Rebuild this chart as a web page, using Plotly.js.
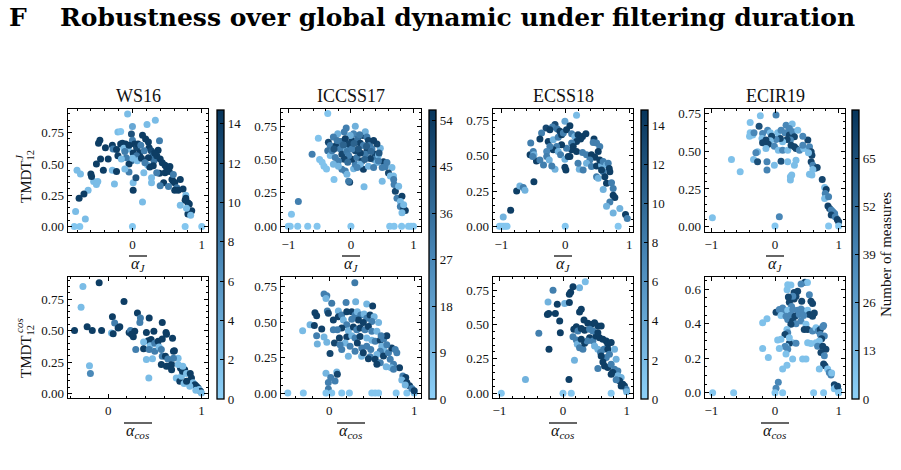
<!DOCTYPE html>
<html><head><meta charset="utf-8">
<script src="https://cdn.plot.ly/plotly-3.0.1.min.js"></script>
<style>html,body{margin:0;padding:0;background:#fff}</style>
</head><body><div id="chart" style="width:901px;height:470px"></div>
<script>
// ---------------- DATA ----------------
const datasets = ["WS16", "ICCSS17", "ECSS18", "ECIR19"];
const cbTicks = [[0,2,4,6,8,10,12,14],[0,9,18,27,36,45,54],[0,2,4,6,8,10,12,14],[0,13,26,39,52,65]];
const cbMax = [14.7, 56, 14.8, 78];

// WS16 — alpha_J vs TMDT^J
const ws16J_x = [-0.07,0.33,0.21,0.00,-0.21,-0.17,-0.47,-0.49,-0.39,-0.29,-0.28,-0.17,-0.145,-0.10,-0.125,-0.06,-0.015,0.00,0.03,0.06,0.145,0.19,0.23,0.24,0.27,0.30,0.39,0.37,0.106,0.17,0.01,0.06,-0.015,-0.05,-0.05,0.00,0.07,-0.11,-0.29,-0.23,-0.21,-0.35,-0.46,-0.52,-0.42,-0.60,-0.80,-0.75,-0.56,-0.52,-0.50,-0.59,-0.64,-0.70,-0.77,-0.82,-0.68,-0.84,-0.76,0,0.76,1.0,0.01,0.01,0.05,-0.26,0.145,0.164,0.275,0.275,0.22,0.31,0.30,0.25,0.40,0.43,0.47,0.49,0.54,0.39,0.35,0.47,0.53,0.45,0.57,0.59,0.61,0.69,0.64,0.61,0.66,0.73,0.40,0.59,0.52,0.77,0.77,0.80,0.76,0.69,0.82,0.855,0.80,0.84,0.78,0.35,0.32,0.23,0.13,0.18,-0.09,-0.16,-0.11,-0.23,0.08,-0.05,0.12];
const ws16J_y = [0.90,0.85,0.815,0.80,0.755,0.76,0.69,0.665,0.63,0.65,0.62,0.66,0.665,0.66,0.625,0.62,0.74,0.69,0.66,0.63,0.73,0.70,0.675,0.63,0.605,0.57,0.685,0.61,0.59,0.605,0.587,0.565,0.525,0.50,0.435,0.546,0.525,0.46,0.45,0.44,0.565,0.54,0.54,0.50,0.45,0.42,0.45,0.42,0.36,0.335,0.36,0.40,0.29,0.26,0.225,0.12,0.06,0,0,0,0,0,0.29,0.35,0.39,0.34,0.195,0.43,0.39,0.35,0.49,0.525,0.485,0.475,0.54,0.51,0.49,0.475,0.48,0.425,0.43,0.43,0.44,0.35,0.375,0.36,0.35,0.375,0.31,0.29,0.29,0.30,0.325,0.415,0.32,0.25,0.225,0.19,0.21,0.17,0.18,0.125,0.10,0.09,0.145,0.565,0.587,0.55,0.545,0.51,0.55,0.54,0.60,0.615,0.66,0.65,0.65];
const ws16J_n = [2,2,2,4,2,1,14,14,14,14,8,14,14,14,2,2,12,8,14,13,14,14,14,14,13,9,8,14,14,8,14,9,9,14,8,2,2,2,2,14,14,14,14,14,14,14,2,2,2,2,2,14,2,14,14,2,2,1,1,1,1,1,14,2,12,2,2,2,2,2,2,9,14,14,14,14,14,14,14,14,8,14,14,14,14,14,14,14,9,14,14,14,8,8,8,2,14,14,14,2,14,14,14,2,2,14,14,14,14,8,8,2,8,14,14,14,8];

// WS16 — alpha_cos vs TMDT^cos
const ws16C_x = [-0.27,-0.096,-0.29,-0.36,-0.225,-0.17,-0.07,-0.20,-0.19,0.17,0.046,0.07,0.125,0.107,0.036,0.054,0.225,0.24,0.285,0.25,0.314,0.346,0.34,0.44,0.58,0.62,0.625,0.41,0.49,0.43,0.46,0.38,0.27,0.296,0.38,0.45,0.44,0.50,0.50,0.536,0.546,0.41,0.475,0.436,0.58,0.69,0.57,0.58,0.614,0.64,0.57,0.625,0.68,0.70,0.71,0.75,0.70,0.73,0.768,0.786,0.796,0.775,0.82,0.84,0.88,0.893,0.857,0.91,0.93,0.946,0.964,0.975,0.99,1.0,0.94,0.875,0.814,0.84,0.80,0.75,0.66,0.68];
const ws16C_y = [0.85,0.88,0.685,0.50,0.53,0.50,0.50,0.22,0.16,0.73,0.61,0.56,0.53,0.52,0.48,0.475,0.485,0.50,0.495,0.47,0.64,0.60,0.565,0.60,0.565,0.485,0.47,0.485,0.495,0.42,0.43,0.41,0.45,0.35,0.355,0.38,0.35,0.335,0.40,0.415,0.37,0.27,0.277,0.124,0.433,0.44,0.35,0.296,0.296,0.275,0.23,0.217,0.23,0.335,0.34,0.28,0.28,0.124,0.098,0.137,0.177,0.203,0.19,0.16,0.16,0.124,0.098,0.085,0.07,0.058,0.045,0.032,0.018,0.005,0.026,0.058,0.08,0.098,0.217,0.23,0.217,0.19];
const ws16C_n = [2,14,2,14,14,14,14,2,7,14,14,8,14,14,2,14,14,8,14,14,14,8,8,14,14,14,14,14,14,14,14,2,14,8,14,2,8,8,8,14,2,2,2,2,14,14,8,8,14,8,14,14,14,14,14,2,8,2,14,2,14,14,14,2,14,14,14,2,14,14,14,2,14,2,2,2,2,14,2,2,14,14];

// ICCSS17 — alpha_J vs TMDT^J
const iccJ_x = [-0.37,-0.52,-0.62,-0.50,-0.46,-0.43,-0.39,-0.27,-0.84,-0.95,-1.0,-0.97,-0.85,-0.69,-0.54,0,0.62,0.69,0.81,0.92,0.96,1.0,-0.075,0.07,-0.107,-0.21,-0.28,-0.36,-0.33,-0.37,-0.33,-0.25,-0.235,-0.16,-0.17,-0.144,-0.075,-0.064,-0.01,0.016,0.043,0.107,0.15,0.19,0.23,0.256,0.28,0.30,0.256,0.336,0.39,0.363,0.44,0.47,0.416,0.52,0.576,0.55,0.656,0.60,0.68,0.63,0.50,0.683,0.69,0.71,0.736,0.816,0.79,0.79,0.843,0.87,0.816,0.843,0.763,0.21,-0.02,-0.037,-0.09,-0.064,-0.144,0.043,0.07,0.016,0.096,0.176,0.20,0.15,0.28,0.31,0.23,0.15,0.07,-0.037,-0.107,-0.20,-0.20,-0.28,-0.30,0.416,0.363,0.20,0.14,-0.01,-0.09,-0.22,-0.037,0.016,0.44,0.50,0.363,0.05,0.12,-0.12,0.25,0.32,-0.05,0.10,0.22,-0.27,0.45];
const iccJ_y = [0.847,0.66,0.54,0.50,0.48,0.45,0.43,0.35,0.185,0.09,0,0,0,0,0,0,0,0,0,0,0,0,0.737,0.75,0.707,0.694,0.669,0.63,0.605,0.567,0.53,0.516,0.605,0.636,0.58,0.54,0.59,0.56,0.605,0.643,0.694,0.656,0.623,0.68,0.71,0.669,0.643,0.605,0.567,0.58,0.54,0.503,0.534,0.585,0.478,0.483,0.478,0.447,0.44,0.40,0.376,0.376,0.338,0.35,0.313,0.262,0.21,0.224,0.186,0.147,0.127,0.117,0.10,0.16,0.30,0.295,0.33,0.338,0.414,0.39,0.427,0.432,0.465,0.503,0.516,0.49,0.427,0.465,0.45,0.508,0.54,0.55,0.567,0.53,0.503,0.49,0.45,0.465,0.567,0.618,0.643,0.605,0.686,0.68,0.656,0.643,0.618,0.58,0.49,0.44,0.44,0.62,0.58,0.61,0.60,0.56,0.48,0.44,0.50,0.58,0.55];
const iccJ_n = [4,5,30,6,5,5,5,5,30,5,4,4,4,4,4,4,4,4,4,4,4,4,30,12,30,12,30,50,30,35,8,30,52,35,30,50,10,32,30,52,28,35,52,50,12,30,50,32,52,30,50,32,10,10,10,52,30,30,8,50,8,8,8,30,30,50,30,52,8,30,52,52,8,8,8,8,50,32,30,10,30,10,30,52,32,50,52,10,10,52,32,52,50,30,50,30,10,10,30,50,52,30,32,12,52,32,50,30,30,30,30,40,45,40,42,38,36,28,40,45,44];

// ICCSS17 — alpha_cos vs TMDT^cos
const iccC_x = [0.30,-0.063,-0.03,-0.04,0.028,0.197,0.31,0.44,0.51,-0.17,-0.15,-0.024,-0.012,0.106,-0.315,-0.228,-0.177,-0.09,-0.15,-0.142,-0.063,-0.03,0.008,0.06,0.118,-0.04,0.016,-0.012,0.067,0.087,0.094,-0.012,-0.49,-0.307,-0.04,0.028,0.146,0.236,0.50,0.54,0.58,0.787,0.913,1.0,0.047,0.106,0.146,0.165,0.205,0.264,0.303,0.33,0.37,0.41,0.44,0.48,0.528,0.58,0.50,0.40,0.343,0.264,0.205,0.146,0.094,0.224,0.283,0.323,0.362,0.42,0.46,0.50,0.56,0.205,0.264,0.303,0.362,0.44,0.50,0.54,0.60,0.64,0.677,0.618,0.638,0.60,0.56,0.48,0.46,0.54,0.638,0.697,0.736,0.776,0.795,0.717,0.756,0.67,0.728,0.827,0.866,0.90,0.854,0.913,0.945,0.972,1.0,0.894,0.224,0.38,0.146,0.185,0.126,0.244,0.303,0.382,0.40,0.33,0.44,0.488,0.60,0.56,0.756,0.677,0.61,0.047];
const iccC_y = [0.78,0.70,0.687,0.668,0.634,0.64,0.645,0.63,0.615,0.568,0.547,0.58,0.564,0.58,0.44,0.482,0.477,0.452,0.405,0.347,0.396,0.359,0.28,0.354,0.389,0.14,0.11,0.075,0.086,0.149,0.133,0.028,0,0,0,0,0,0,0,0,0,0,0,0,0.517,0.54,0.552,0.517,0.575,0.575,0.552,0.575,0.552,0.559,0.529,0.552,0.54,0.498,0.505,0.498,0.517,0.522,0.482,0.459,0.447,0.44,0.466,0.447,0.459,0.447,0.47,0.436,0.436,0.396,0.405,0.389,0.40,0.389,0.373,0.366,0.373,0.382,0.405,0.331,0.307,0.296,0.272,0.256,0.242,0.238,0.261,0.284,0.319,0.307,0.284,0.238,0.203,0.186,0.179,0.179,0.121,0.109,0.093,0.075,0.051,0.033,0.016,0.056,0.26,0.26,0.307,0.354,0.342,0.331,0.296,0.319,0.284,0.354,0.331,0.307,0.214,0.203,0.168,0.342,0.405,0.447];
const iccC_n = [32,30,30,10,32,30,12,10,52,52,52,32,50,10,8,10,52,52,30,12,10,10,50,50,52,10,30,30,30,10,50,32,4,4,4,4,4,4,4,4,4,4,4,4,52,52,30,10,52,52,30,10,30,10,30,52,10,10,30,52,52,30,30,52,30,10,52,30,52,30,52,30,10,52,10,30,52,10,10,30,52,30,52,10,10,30,10,30,52,52,52,30,52,30,30,30,30,10,10,52,30,52,10,52,52,30,52,10,10,10,30,10,30,30,30,30,52,52,30,30,30,52,30,30,30,30];

// ECSS18 — alpha_J vs TMDT^J
const ecsJ_x = [0.177,-0.005,-0.16,0.073,-0.30,-0.20,-0.24,-0.125,-0.083,-0.37,-0.396,-0.266,-0.188,-0.11,-0.057,-0.03,0.02,0.10,0.15,0.20,0.27,0.323,0.24,0.177,0.10,0.125,0.10,0.02,-0.057,-0.135,-0.188,-0.24,-0.29,-0.29,-0.11,-0.073,-0.005,0.073,0.177,0.27,0.333,0.41,0.45,0.437,0.49,0.54,0.516,0.464,0.385,0.333,0.41,0.49,0.568,0.54,0.594,0.646,0.672,0.688,0.698,0.594,0.49,0.516,0.62,0.568,0.646,0.724,0.594,0.75,0.75,0.776,0.698,0.646,0.854,0.75,0.943,0.97,0.828,0,-1.03,-1.0,-0.97,-0.94,-0.91,-0.97,-0.854,-0.76,-0.71,-0.656,-0.63,-0.49,-0.54,-0.55,-0.50,-0.49,-0.45,-0.51,-0.34,-0.25,-0.16,-0.21,-0.005,0.01,0.22,0.20,0.28,-0.396,0.047];
const ecsJ_y = [0.786,0.743,0.72,0.712,0.695,0.703,0.684,0.688,0.672,0.66,0.617,0.60,0.612,0.63,0.648,0.66,0.684,0.655,0.636,0.648,0.636,0.655,0.617,0.60,0.589,0.565,0.541,0.553,0.577,0.565,0.541,0.565,0.53,0.494,0.53,0.506,0.475,0.494,0.53,0.522,0.506,0.506,0.617,0.593,0.589,0.565,0.53,0.489,0.47,0.446,0.423,0.427,0.434,0.47,0.458,0.434,0.446,0.41,0.387,0.387,0.351,0.34,0.351,0.399,0.304,0.309,0.261,0.268,0.22,0.204,0.173,0.142,0.126,0.095,0.083,0.055,0,0,0,0,0,0,0,0.066,0.114,0.25,0.285,0.275,0.256,0.316,0.589,0.506,0.53,0.506,0.463,0.494,0.434,0.47,0.403,0.427,0.418,0.399,0.403,0.446,0.399,0.47,0.494];
const ecsJ_n = [2,4,13,14,13,8,14,9,14,8,14,14,3,8,14,8,14,8,3,14,14,14,14,14,8,14,14,8,14,8,14,8,7,8,3,8,3,14,14,8,8,14,14,8,8,8,14,14,8,3,8,14,3,14,8,3,8,14,14,8,8,3,14,14,14,8,3,8,14,14,8,3,3,3,14,8,1,1,1,1,1,1,1,3,14,14,3,8,3,14,8,14,8,3,14,8,8,3,3,8,14,14,3,8,8,8,14];

// ECSS18 — alpha_cos vs TMDT^cos
const ecsC_x = [0.35,0.26,0.157,0.12,0.10,0.026,0.10,-0.235,-0.09,-0.157,-0.245,-0.225,-0.12,-0.052,-0.042,-0.38,-0.22,-0.59,0.094,0.18,-0.97,0,0.13,0.757,0.26,0.287,0.33,0.39,0.21,0.17,0.235,0.287,0.34,0.444,0.496,0.548,0.60,0.157,0.21,0.225,0.26,0.313,0.34,0.418,0.47,0.52,0.574,0.627,0.68,0.705,0.757,0.418,0.47,0.548,0.496,0.548,0.59,0.642,0.705,0.73,0.68,0.627,0.548,0.653,0.705,0.757,0.81,0.835,0.81,0.862,0.783,0.862,0.914,0.888,0.94,0.966,0.992,1.0,0.914,0.835,0.757,0.38,0.287,0.60];
const ecsC_y = [0.81,0.767,0.774,0.735,0.72,0.653,0.66,0.663,0.646,0.748,0.573,0.58,0.58,0.525,0.44,0.435,0.32,0.10,0.10,0.24,0,0,0,0,0.59,0.61,0.532,0.508,0.484,0.465,0.452,0.47,0.457,0.50,0.513,0.489,0.489,0.411,0.387,0.356,0.331,0.32,0.363,0.404,0.38,0.416,0.404,0.392,0.38,0.356,0.368,0.465,0.452,0.44,0.343,0.32,0.295,0.32,0.32,0.283,0.259,0.227,0.179,0.198,0.186,0.21,0.32,0.247,0.174,0.162,0.15,0.126,0.114,0.09,0.065,0.053,0.029,0.01,0.053,0.097,0.138,0.38,0.392,0.271];
const ecsC_n = [2,3,14,14,14,3,14,3,14,8,14,14,14,14,14,8,14,3,14,3,1,1,1,1,14,14,14,14,14,14,8,14,14,14,14,14,14,8,8,3,8,8,14,14,8,14,14,14,14,14,14,8,8,14,3,3,8,8,14,8,8,14,8,14,14,8,3,3,8,8,14,3,3,14,14,14,8,3,14,8,14,8,14,14];

// ECIR19 — alpha_J vs TMDT^J
const ecirJ_x = [-0.23,0.016,-0.39,-0.25,-0.39,-0.35,-0.40,-0.33,-0.195,-0.116,-0.074,-0.205,0.042,0.095,0.174,0.27,0.226,0.158,0.226,0.28,0.305,0.358,0.242,0.19,0.12,0.084,0.016,-0.053,-0.074,-0.142,-0.105,-0.195,-0.142,-0.01,0.053,0.12,0.20,0.253,0.305,0.33,0.384,0.452,0.437,0.516,0.437,0.542,0.568,0.58,0.526,-0.274,-0.30,-0.337,-0.274,-0.684,-0.547,-0.126,-0.126,-0.01,0.095,0.20,0.33,0.305,0.263,0.242,0.242,0.568,0.595,0.63,0.663,0.595,0.542,0.58,0.742,0.78,0.805,0.79,0.78,0.842,0.832,0.858,0.884,0.91,0.937,0.884,0.947,0.979,1.0,1.0,0.842,0,0.068,-0.984];
const ecirJ_y = [0.735,0.74,0.69,0.666,0.622,0.607,0.60,0.622,0.618,0.64,0.622,0.585,0.622,0.64,0.673,0.68,0.65,0.622,0.607,0.629,0.596,0.64,0.574,0.578,0.563,0.585,0.578,0.60,0.569,0.574,0.547,0.556,0.518,0.534,0.507,0.507,0.507,0.54,0.53,0.518,0.507,0.518,0.54,0.574,0.60,0.53,0.496,0.474,0.49,0.496,0.49,0.445,0.43,0.445,0.364,0.43,0.375,0.408,0.434,0.43,0.44,0.408,0.342,0.309,0.331,0.43,0.408,0.386,0.393,0.379,0.348,0.342,0.313,0.26,0.247,0.22,0.187,0.199,0.137,0.121,0.11,0.10,0.088,0.077,0.066,0.048,0.033,0.004,0.004,0.004,0.066,0.06];
const ecirJ_n = [8,40,8,65,8,8,8,38,38,38,10,10,10,38,38,10,38,38,70,38,70,10,38,70,10,70,38,70,10,70,70,70,10,38,10,38,10,70,70,70,38,10,38,70,38,38,70,70,10,10,38,10,65,8,8,40,40,10,65,10,10,10,10,10,10,70,40,40,70,10,10,10,70,10,72,40,10,40,72,72,40,40,40,70,40,72,72,5,5,5,38,8];

// ECIR19 — alpha_cos vs TMDT^cos
const ecirC_x = [0.20,0.25,0.19,0.47,0.51,0.41,0.356,0.30,0.33,0.30,0.42,0.54,0.565,0.59,0.225,0.26,0.28,0.21,0.016,0.068,0.12,0.147,0.20,0.28,0.356,0.41,0.46,0.513,0.54,0.59,0.618,0.094,0.173,0.25,0.314,0.382,0.45,0.20,0.277,0.33,0.25,0.188,0.20,0.157,0.408,0.487,0.46,0.513,0.59,0.644,0.68,0.712,0.75,0.764,0.712,0.775,0.733,0.696,0.644,0.565,0.513,0.67,0.75,0.80,0.722,0.775,0.764,0.785,0.827,0.853,0.88,0.89,0.696,0.932,0.958,0.984,1.0,1.0,0.932,0.984,0.277,0.33,0.225,0.173,0.20,0.225,0.094,0.157,0.277,0.434,0.487,0.068,0.173,0.188,0.12,0.016,0.052,-0.194,-0.126,-0.194,-0.105,0.042,-0.98,-0.65,0,0.12,0.607,0.764,1.0];
const ecirC_y = [0.625,0.623,0.596,0.64,0.638,0.63,0.587,0.58,0.558,0.543,0.53,0.568,0.53,0.516,0.524,0.50,0.558,0.554,0.466,0.482,0.49,0.472,0.478,0.482,0.478,0.485,0.472,0.478,0.453,0.443,0.462,0.447,0.443,0.45,0.443,0.453,0.447,0.424,0.415,0.40,0.396,0.367,0.348,0.338,0.415,0.396,0.367,0.367,0.357,0.376,0.357,0.367,0.382,0.39,0.338,0.329,0.313,0.30,0.29,0.285,0.29,0.27,0.27,0.252,0.233,0.214,0.166,0.157,0.138,0.118,0.103,0.115,0.138,0.046,0.032,0.023,0.013,0.004,0.023,0.038,0.29,0.287,0.287,0.27,0.252,0.319,0.31,0.268,0.195,0.195,0.195,0.256,0.224,0.16,0.138,0.027,0.061,0.405,0.428,0.256,0.204,0.306,0,0,0,0,0,0,0];
const ecirC_n = [8,8,8,70,8,38,70,70,70,70,70,38,70,70,70,38,38,70,70,38,38,38,8,38,38,38,38,8,70,70,70,8,38,38,70,38,38,38,70,38,70,8,38,70,38,8,70,70,38,8,38,70,38,38,38,38,70,8,8,8,8,38,70,70,70,38,70,70,8,38,38,8,8,70,38,70,38,8,8,70,8,38,70,8,38,8,8,38,8,8,8,8,8,8,8,38,38,8,8,8,8,8,5,5,5,5,5,5,5];

// --------------- PLOT ----------------
const W = 901, H = 470;
const FONT = 'Liberation Serif';
const fx = p => p / W, fy = p => 1 - p / H;
const colX = [[68,208],[281,421],[493,633],[705,845]];
const rowTop = [109,232], rowBot = [277,398];
const cbLeft = [217,429,641,852];
const scale = [[0,'#8dd0f8'],[0.5,'#4785b5'],[1,'#07355b']];

const panels = [
  {x: ws16J_x, y: ws16J_y, n: ws16J_n}, {x: ws16C_x, y: ws16C_y, n: ws16C_n},
  {x: iccJ_x, y: iccJ_y, n: iccJ_n}, {x: iccC_x, y: iccC_y, n: iccC_n},
  {x: ecsJ_x, y: ecsJ_y, n: ecsJ_n}, {x: ecsC_x, y: ecsC_y, n: ecsC_n},
  {x: ecirJ_x, y: ecirJ_y, n: ecirJ_n}, {x: ecirC_x, y: ecirC_y, n: ecirC_n}
];
const xr = [[-0.93,1.09],[-0.43,1.07],[-1.117,1.12],[-0.57,1.08],[-1.13,1.06],[-1.1,1.1],[-1.1,1.1],[-1.1,1.1]];
const yr = [[-0.045,0.94],[-0.035,0.925],[-0.044,0.88],[-0.035,0.82],[-0.04,0.83],[-0.035,0.845],[-0.035,0.78],[-0.03,0.67]];

const traces = [];
const layout = {
  width: W, height: H, margin: {l:0, r:0, t:0, b:0, autoexpand:false},
  paper_bgcolor: '#fff', plot_bgcolor: '#fff', showlegend: false,
  font: {family: FONT, color: '#111', size: 13},
  annotations: [], shapes: []
};
const tf = {family: FONT, size: 13, color: '#111'};

panels.forEach((p, i) => {
  const col = Math.floor(i / 2), bottom = i % 2 === 1;
  const k = i + 1, xa = k === 1 ? 'x' : 'x' + k, ya = k === 1 ? 'y' : 'y' + k;
  traces.push({
    type: 'scatter', mode: 'markers', x: p.x, y: p.y, xaxis: xa, yaxis: ya,
    marker: {size: 7, color: p.n, coloraxis: col === 0 ? 'coloraxis' : 'coloraxis' + (col + 1), line: {width: 0}},
    hoverinfo: 'skip'
  });
  const rows = bottom ? rowBot : rowTop;
  const common = {
    showline: true, linecolor: '#000', linewidth: 1.3, mirror: 'allticks',
    ticks: 'inside', ticklen: 4, tickwidth: 1, tickcolor: '#000',
    showgrid: false, zeroline: false, tickfont: tf, fixedrange: true
  };
  layout[k === 1 ? 'xaxis' : 'xaxis' + k] = Object.assign({}, common, {
    domain: [fx(colX[col][0]), fx(colX[col][1])], anchor: ya, range: xr[i],
    tick0: 0, dtick: 1, minor: {ticks: 'inside', ticklen: 2, tickcolor: '#000', dtick: 0.2, showgrid: false}
  });
  const ecirBot = (i === 7);
  layout[k === 1 ? 'yaxis' : 'yaxis' + k] = Object.assign({}, common, {
    domain: [fy(rows[1]), fy(rows[0])], anchor: xa, range: yr[i],
    tick0: 0, dtick: ecirBot ? 0.2 : 0.25, tickformat: ecirBot ? '.1f' : '.2f',
    minor: {ticks: 'inside', ticklen: 2, tickcolor: '#000', dtick: 0.05, showgrid: false}
  });
});

for (let c = 0; c < 4; c++) {
  const key = c === 0 ? 'coloraxis' : 'coloraxis' + (c + 1);
  const cb = {
    x: fx(cbLeft[c]), xanchor: 'left', y: fy(399), yanchor: 'bottom',
    len: 289 / H, lenmode: 'fraction', thickness: 7, thicknessmode: 'pixels',
    outlinewidth: 1.3, outlinecolor: '#000', xpad: 0, ypad: 0,
    tickmode: 'array', tickvals: cbTicks[c], ticks: 'inside', ticklen: 4, tickcolor: '#000',
    tickfont: tf
  };
  if (c === 3) cb.title = {text: 'Number of measures', side: 'right', font: {family: FONT, size: 15, color: '#111'}};
  layout[key] = {cmin: 0, cmax: cbMax[c], colorscale: scale, colorbar: cb};
}

// titles
layout.annotations.push({text: '<b>F</b>', x: fx(7), y: fy(17), xref: 'paper', yref: 'paper', xanchor: 'left', yanchor: 'middle', showarrow: false, font: {family: 'DejaVu Serif', size: 25, color: '#000'}});
layout.annotations.push({text: '<b>Robustness over global dynamic under filtering duration</b>', x: fx(58), y: fy(17), xref: 'paper', yref: 'paper', xanchor: 'left', yanchor: 'middle', showarrow: false, font: {family: 'DejaVu Serif', size: 25, color: '#000'}});
datasets.forEach((d, c) => {
  const cx = (colX[c][0] + colX[c][1]) / 2;
  layout.annotations.push({text: d, x: fx(cx), y: fy(96), xref: 'paper', yref: 'paper', xanchor: 'center', yanchor: 'middle', showarrow: false, font: {family: FONT, size: 18, color: '#111'}});
  layout.annotations.push({text: '<i>α</i><sub><i>J</i></sub>', x: fx(cx), y: fy(264), xref: 'paper', yref: 'paper', xanchor: 'center', yanchor: 'middle', showarrow: false, font: {family: FONT, size: 16, color: '#111'}});
  layout.annotations.push({text: '<i>α</i><sub><i>cos</i></sub>', x: fx(cx), y: fy(431), xref: 'paper', yref: 'paper', xanchor: 'center', yanchor: 'middle', showarrow: false, font: {family: FONT, size: 16, color: '#111'}});
  layout.shapes.push({type: 'line', xref: 'paper', yref: 'paper', x0: fx(cx - 9), x1: fx(cx + 9), y0: fy(256), y1: fy(256), line: {color: '#000', width: 1.2}});
  layout.shapes.push({type: 'line', xref: 'paper', yref: 'paper', x0: fx(cx - 14), x1: fx(cx + 14), y0: fy(423), y1: fy(423), line: {color: '#000', width: 1.2}});
});
// y titles
layout.annotations.push({text: 'TMDT<sub>12</sub>', textangle: -90, x: fx(27), y: fy(177), xref: 'paper', yref: 'paper', xanchor: 'center', yanchor: 'middle', showarrow: false, font: {family: FONT, size: 15, color: '#111'}});
layout.annotations.push({text: '<i>J</i>', textangle: -90, x: fx(19), y: fy(157), xref: 'paper', yref: 'paper', xanchor: 'center', yanchor: 'middle', showarrow: false, font: {family: FONT, size: 11, color: '#111'}});
layout.annotations.push({text: 'TMDT<sub>12</sub>', textangle: -90, x: fx(27), y: fy(352), xref: 'paper', yref: 'paper', xanchor: 'center', yanchor: 'middle', showarrow: false, font: {family: FONT, size: 15, color: '#111'}});
layout.annotations.push({text: '<i>cos</i>', textangle: -90, x: fx(19), y: fy(326), xref: 'paper', yref: 'paper', xanchor: 'center', yanchor: 'middle', showarrow: false, font: {family: FONT, size: 11, color: '#111'}});

Plotly.newPlot('chart', traces, layout, {displayModeBar: false, staticPlot: true});
</script></body></html>
